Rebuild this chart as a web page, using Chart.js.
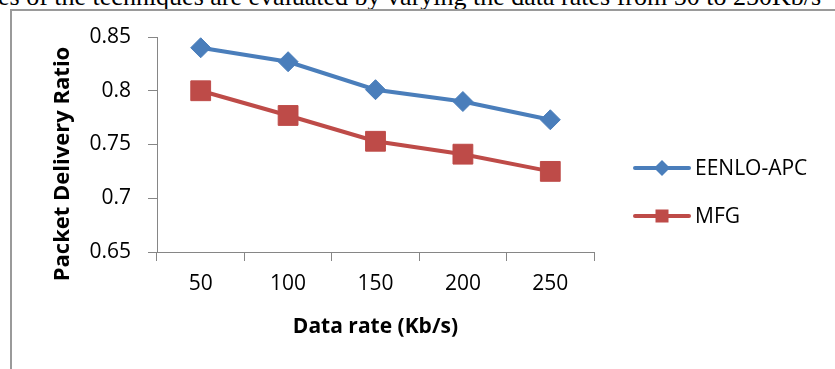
<!DOCTYPE html>
<html>
<head>
<meta charset="utf-8">
<script src="https://cdn.jsdelivr.net/npm/chart.js@4/dist/chart.umd.min.js"></script>
<style>
  html, body { margin:0; padding:0; background:#fff; width:835px; height:369px; overflow:hidden; }
  #intro { position:absolute; left:-2px; top:-16px; font:26px "Liberation Serif", serif; line-height:26px; white-space:nowrap; color:#000; }
  #frame { position:absolute; left:10px; top:9px; width:900px; height:420px; border-left:2px solid #9a9a9a; border-top:2px solid #9a9a9a; }
  #wrap { position:absolute; left:0; top:0; width:835px; height:369px; }
</style>
</head>
<body>
<div id="intro">es of the techniques are evaluated by varying the data rates from 50 to 250Kb/s</div>
<div id="frame"></div>
<div id="wrap"><canvas id="grafico" width="835" height="369"></canvas></div>
<script>
// datos
const rates = ['50', '100', '150', '200', '250'];
const eenlo = [0.840, 0.827, 0.801, 0.790, 0.773];
const mfg = [0.800, 0.777, 0.753, 0.741, 0.725];
const yTicks = [0.65, 0.7, 0.75, 0.8, 0.85];

const AXIS = '#868686';
const FONT = '"Open Sans", sans-serif';

// leyenda estilo Excel: linea + marcador, y titulo del eje Y
const leyenda = {
  id: 'leyenda',
  afterDraw(chart){
    const ctx = chart.ctx;
    const items = [
      { ds: chart.data.datasets[0], y: 168, shape: 'diamond' },
      { ds: chart.data.datasets[1], y: 216, shape: 'square' }
    ];
    ctx.save();
    items.forEach(it => {
      ctx.strokeStyle = it.ds.borderColor;
      ctx.lineWidth = 4;
      ctx.lineCap = 'round';
      ctx.beginPath(); ctx.moveTo(635, it.y); ctx.lineTo(689, it.y); ctx.stroke();
      ctx.fillStyle = it.ds.borderColor;
      ctx.beginPath();
      if (it.shape === 'diamond') {
        ctx.moveTo(662, it.y - 8); ctx.lineTo(670, it.y); ctx.lineTo(662, it.y + 8); ctx.lineTo(654, it.y);
        ctx.closePath(); ctx.fill();
      } else {
        ctx.fillRect(655.5, it.y - 6.5, 13, 13);
      }
      ctx.fillStyle = '#000';
      ctx.font = '21px ' + FONT;
      ctx.textAlign = 'left';
      ctx.textBaseline = 'middle';
      ctx.fillText(it.ds.label, 695, it.y + 1);
    });
    ctx.translate(63, 164);
    ctx.rotate(-Math.PI / 2);
    ctx.font = 'bold 22px ' + FONT;
    ctx.textAlign = 'center';
    ctx.textBaseline = 'middle';
    ctx.fillText('Packet Delivery Ratio', 0, 0);
    ctx.restore();
  }
};

const ctx = document.getElementById('grafico').getContext('2d');
new Chart(ctx, {
  type: 'line',
  data: {
    labels: rates,
    datasets: [
      { label: 'EENLO-APC', data: eenlo, borderColor: '#4A7EBB', backgroundColor: '#4A7EBB',
        borderWidth: 4, pointStyle: 'rectRot', pointRadius: 10, pointBorderWidth: 1, tension: 0 },
      { label: 'MFG', data: mfg, borderColor: '#BE4B48', backgroundColor: '#BE4B48',
        borderWidth: 4, pointStyle: 'rect', pointRadius: 14, pointBorderWidth: 1, tension: 0 }
    ]
  },
  options: {
    responsive: false,
    animation: false,
    events: [],
    layout: { padding: { left: 0, top: 37, right: 241, bottom: 0 } },
    plugins: { legend: { display: false }, tooltip: { enabled: false } },
    scales: {
      x: {
        offset: true,
        grid: { offset: true, drawOnChartArea: false, drawTicks: true, tickLength: 9, color: AXIS },
        border: { color: AXIS, width: 1 },
        ticks: { color: '#000', font: { family: FONT, size: 21 }, padding: 10, maxRotation: 0 },
        title: { display: true, text: 'Data rate (Kb/s)', color: '#000',
                 font: { family: FONT, size: 21, weight: 'bold' }, padding: { top: 0, bottom: 29 } },
        afterFit(s){ s.height = 117; }
      },
      y: {
        min: 0.65, max: 0.85,
        afterBuildTicks(s){ s.ticks = yTicks.map(v => ({ value: v })); },
        grid: { drawOnChartArea: false, drawTicks: true, tickLength: 9, color: AXIS },
        border: { color: AXIS, width: 1 },
        ticks: { color: '#000', font: { family: FONT, size: 21 }, padding: 17, callback: v => String(v) },
        afterFit(s){ s.width = 157; }
      }
    }
  },
  plugins: [leyenda]
});
</script>
</body>
</html>
